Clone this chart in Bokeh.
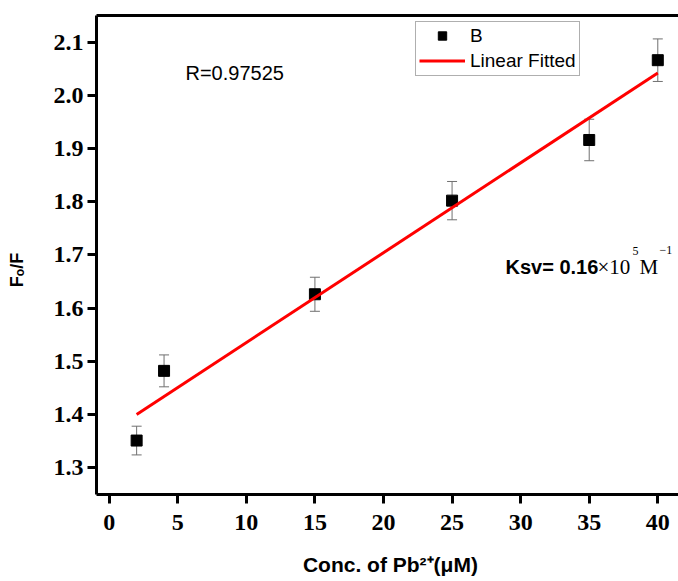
import math
from bokeh.plotting import figure
from bokeh.models import (Range1d, FixedTicker, LinearAxis, Legend, LegendItem,
                          Label, Whisker, ColumnDataSource, TeeHead, PrintfTickFormatter)
from bokeh.embed import file_html
from bokeh.resources import INLINE

# ---- data ----
conc = [2, 4, 15, 25, 35, 40]
ratio = [1.351, 1.482, 1.626, 1.802, 1.916, 2.066]
err = [0.027, 0.030, 0.032, 0.036, 0.039, 0.040]
fit_x = [2, 40]
fit_y = [1.400, 2.042]
x_ticks = [0, 5, 10, 15, 20, 25, 30, 35, 40]
y_ticks = [1.3, 1.4, 1.5, 1.6, 1.7, 1.8, 1.9, 2.0, 2.1]

W, H = 678, 581
FL, FR, FT, FB = 96, 678, 15, 493.5
XR = (-0.926, 41.51)
YR = (1.2496, 2.150)

def dx(px):
    return XR[0] + (px - FL) / (FR - FL) * (XR[1] - XR[0])

def dy(py):
    return YR[1] - (py - FT) / (FB - FT) * (YR[1] - YR[0])

p = figure(width=W, height=H, x_range=Range1d(*XR), y_range=Range1d(*YR),
           output_backend="svg", toolbar_location=None,
           min_border_left=FL, min_border_right=0, min_border_top=FT,
           min_border_bottom=int(H - FB))
p.outline_line_color = None
p.grid.visible = False
p.background_fill_color = "white"
p.border_fill_color = "white"

for ax in (p.xaxis[0], p.yaxis[0]):
    ax.axis_line_width = 3
    ax.axis_line_color = "black"
    ax.major_tick_line_width = 3
    ax.major_tick_out = 9
    ax.major_tick_in = 0
    ax.minor_tick_out = 0
    ax.minor_tick_in = 0
    ax.major_label_text_font = "Liberation Serif"
    ax.major_label_text_font_style = "bold"
    ax.major_label_text_font_size = "24px"
    ax.major_label_text_color = "black"
    ax.axis_label_text_font = "Liberation Sans"
    ax.axis_label_text_font_style = "bold"
    ax.axis_label_text_color = "black"
p.xaxis[0].ticker = FixedTicker(ticks=x_ticks)
p.yaxis[0].ticker = FixedTicker(ticks=y_ticks)
p.yaxis[0].formatter = PrintfTickFormatter(format="%.1f")
p.xaxis[0].major_label_standoff = 11
p.yaxis[0].major_label_standoff = 4

p.xaxis[0].axis_label = "\u00a0Conc. of Pb\u00b2\u207a(\u03bcM)"
p.xaxis[0].axis_label_text_font_size = "21px"
p.xaxis[0].axis_label_standoff = 20
p.yaxis[0].axis_label = "F\u2092/F\u00a0\u00a0\u00a0\u00a0\u00a0\u00a0"
p.yaxis[0].axis_label_text_font_size = "18px"
p.yaxis[0].axis_label_standoff = 24

top = LinearAxis(ticker=FixedTicker(ticks=[]), axis_line_width=3, axis_line_color="black",
                 major_tick_out=0, major_tick_in=0, minor_tick_out=0, minor_tick_in=0,
                 major_label_text_font_size="0px")
p.add_layout(top, "above")

src = ColumnDataSource(dict(x=conc, y=ratio,
                            upper=[r + e for r, e in zip(ratio, err)],
                            lower=[r - e for r, e in zip(ratio, err)]))
wh = Whisker(base="x", upper="upper", lower="lower", source=src,
             line_color="#707070", line_width=1,
             upper_head=TeeHead(size=10, line_color="#707070", line_width=1),
             lower_head=TeeHead(size=10, line_color="#707070", line_width=1),
             level="underlay")
p.add_layout(wh)

sc = p.scatter("x", "y", source=src, marker="square", size=11, color="black")
ln = p.line(fit_x, fit_y, line_color="red", line_width=3)

legend = Legend(items=[LegendItem(label="B", renderers=[sc]),
                       LegendItem(label="Linear Fitted", renderers=[ln])],
                location=(415 - FL, FB - 75),
                label_text_font="Liberation Sans", label_text_font_size="19px",
                label_text_color="black",
                glyph_width=46, glyph_height=21, label_height=21, label_standoff=5,
                padding=3, spacing=3, margin=0,
                border_line_color="#606060", border_line_width=1,
                background_fill_color="white", background_fill_alpha=1)
p.add_layout(legend, "center")

def lab(text, px, py, size, font="Liberation Sans", style="normal", angle=0):
    p.add_layout(Label(x=dx(px), y=dy(py), text=text, text_font=font,
                       text_font_style=style, text_font_size=size,
                       text_color="black", text_align="left",
                       text_baseline="alphabetic", angle=angle))

lab("R=0.97525", 185, 72.5, "20px")
lab("Ksv= 0.16", 505, 266.7, "20px", style="bold")
lab("\u00d710", 597, 266.7, "21px", font="Liberation Serif")
lab("5", 632, 250, "12px", font="Liberation Serif")
lab("M", 639, 266.7, "21px", font="Liberation Serif")
lab("\u22121", 659, 249, "12px", font="Liberation Serif")

open("out.html", "w").write(file_html(p, INLINE))
